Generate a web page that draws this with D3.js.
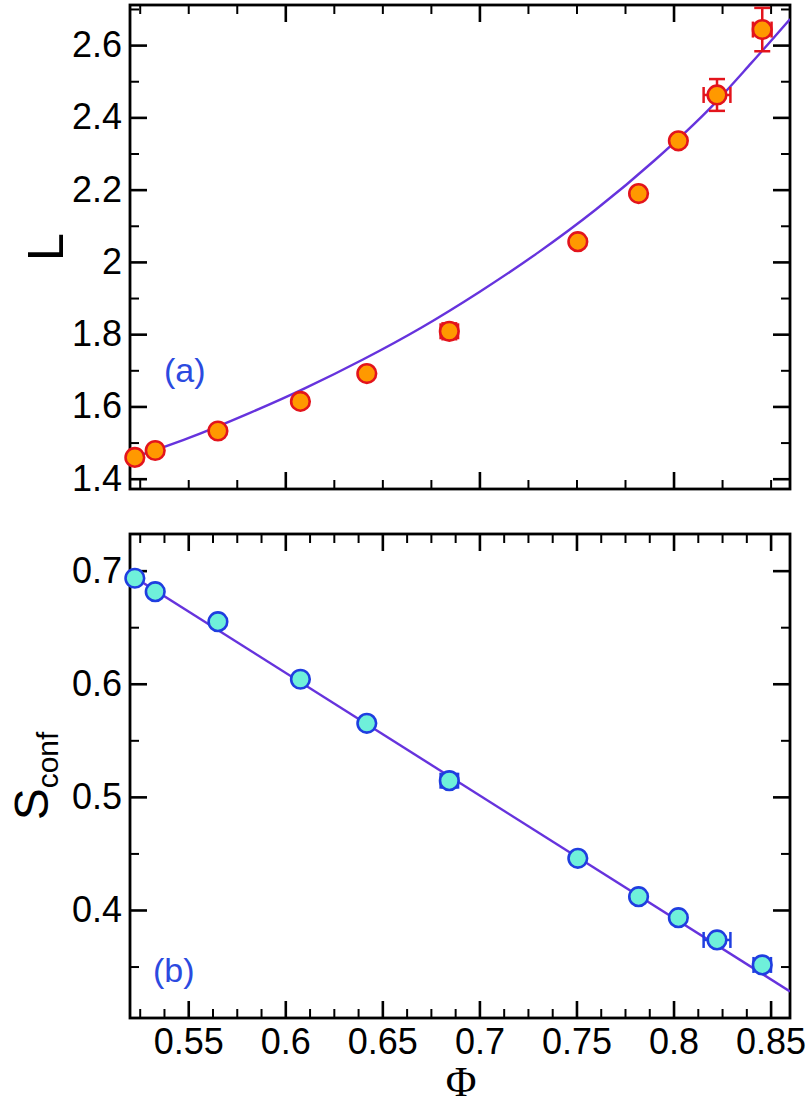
<!DOCTYPE html>
<html>
<head>
<meta charset="utf-8">
<script src="https://cdn.jsdelivr.net/npm/d3@7"></script>
<style>
  html, body { margin: 0; padding: 0; background: #fff; }
  svg { display: block; }
  text { font-family: "Liberation Sans", Arial, Helvetica, sans-serif; }
</style>
</head>
<body>
<svg id="chart" width="810" height="1107"></svg>
<script>
// ---------- data ----------
const phi    = [0.5225, 0.533, 0.5653, 0.6078, 0.642, 0.6845, 0.7507, 0.782, 0.8025, 0.8224, 0.8457];
const Lval   = [1.459, 1.478, 1.532, 1.614, 1.691, 1.808, 2.056, 2.189, 2.335, 2.462, 2.643];
const LerrX  = [0, 0, 0, 0, 0, 0.0045, 0, 0, 0, 0.0069, 0.0048];
const LerrY  = [0, 0, 0, 0, 0, 0.022, 0, 0, 0, 0.044, 0.06];
const Sval   = [0.6933, 0.6814, 0.6549, 0.604, 0.565, 0.5143, 0.4457, 0.4118, 0.3932, 0.3735, 0.3514];
const SerrX  = [0, 0, 0, 0, 0, 0.0045, 0, 0, 0, 0.0069, 0.0045];
const SerrY  = [0, 0, 0, 0, 0, 0.006, 0, 0, 0, 0, 0];

// fit curves
const fitLx  = [0.52, 0.55, 0.58, 0.61, 0.64, 0.67, 0.70, 0.73, 0.76, 0.79, 0.82, 0.84, 0.86];
const fitLy  = [1.455, 1.512, 1.578, 1.650, 1.730, 1.818, 1.917, 2.025, 2.145, 2.280, 2.432, 2.550, 2.672];
const fitSx  = [0.52, 0.86];
const fitSy  = [0.6965, 0.328];

// ticks
const xMajorTop   = [0.6, 0.7, 0.8];
const xMinorTop   = [0.525, 0.55, 0.575, 0.625, 0.65, 0.675, 0.725, 0.75, 0.775, 0.825, 0.85];
const xMajorBot   = [0.55, 0.6, 0.65, 0.7, 0.75, 0.8, 0.85];
const xMajorLabels = ["0.55", "0.6", "0.65", "0.7", "0.75", "0.8", "0.85"];
const xMinorBot   = [0.525, 0.5375, 0.5625, 0.575, 0.5875, 0.6125, 0.625, 0.6375, 0.6625, 0.675, 0.6875,
                     0.7125, 0.725, 0.7375, 0.7625, 0.775, 0.7875, 0.8125, 0.825, 0.8375];
const yMajorTop   = [1.4, 1.6, 1.8, 2.0, 2.2, 2.4, 2.6];
const yMajorTopLabels = ["1.4", "1.6", "1.8", "2", "2.2", "2.4", "2.6"];
const yMinorTop   = [1.5, 1.7, 1.9, 2.1, 2.3, 2.5, 2.7];
const yMajorBot   = [0.4, 0.5, 0.6, 0.7];
const yMajorBotLabels = ["0.4", "0.5", "0.6", "0.7"];
const yMinorBot   = [0.35, 0.45, 0.55, 0.65];

// ---------- layout ----------
const svg = d3.select("#chart");
const X0 = 130, X1 = 790;
const top1 = 5, bot1 = 489, top2 = 534, bot2 = 1018;

const x = d3.scaleLinear().domain([0.52, 0.86]).range([X0, X1]);
const yT = d3.scaleLinear().domain([1.3715, 2.711]).range([bot1, top1]);
const yB = d3.scaleLinear().domain([0.3045, 0.7324]).range([bot2, top2]);

const lineColor = "#6633dd";

function styleAxis(g, w) {
  g.select(".domain").remove();
  g.selectAll(".tick line").attr("stroke", "#000").attr("stroke-width", w);
  g.selectAll(".tick text").attr("fill", "#000").style("font-size", "36px")
    .style("font-family", '"Liberation Sans", Arial, sans-serif');
}

function panel(y, top, bot, xMaj, xMin, yMaj, yMajLab, yMin, showXLabels, id) {
  const clipId = "clip" + id;
  svg.append("clipPath").attr("id", clipId).append("rect")
    .attr("x", X0).attr("y", top).attr("width", X1 - X0).attr("height", bot - top);

  const fmtMap = (vals, labs) => d => labs[vals.indexOf(d)];
  svg.append("g").attr("transform", `translate(${X0},0)`)
    .call(d3.axisLeft(y).tickValues(yMaj).tickSizeInner(-17).tickSizeOuter(0).tickPadding(8)
      .tickFormat(fmtMap(yMaj, yMajLab)))
    .call(g => styleAxis(g, 2.6));
  svg.append("g").attr("transform", `translate(${X0},0)`)
    .call(d3.axisLeft(y).tickValues(yMin).tickSizeInner(-9).tickSizeOuter(0).tickFormat(""))
    .call(g => styleAxis(g, 2));
  svg.append("g").attr("transform", `translate(${X1},0)`)
    .call(d3.axisRight(y).tickValues(yMaj).tickSizeInner(-17).tickSizeOuter(0).tickFormat(""))
    .call(g => styleAxis(g, 2.6));
  svg.append("g").attr("transform", `translate(${X1},0)`)
    .call(d3.axisRight(y).tickValues(yMin).tickSizeInner(-9).tickSizeOuter(0).tickFormat(""))
    .call(g => styleAxis(g, 2));
  const bAx = d3.axisBottom(x).tickValues(xMaj).tickSizeInner(-17).tickSizeOuter(0).tickPadding(10);
  if (showXLabels) bAx.tickFormat(fmtMap(xMajorBot, xMajorLabels)); else bAx.tickFormat("");
  svg.append("g").attr("transform", `translate(0,${bot})`).call(bAx).call(g => styleAxis(g, 2.6));
  svg.append("g").attr("transform", `translate(0,${bot})`)
    .call(d3.axisBottom(x).tickValues(xMin).tickSizeInner(-9).tickSizeOuter(0).tickFormat(""))
    .call(g => styleAxis(g, 2));
  svg.append("g").attr("transform", `translate(0,${top})`)
    .call(d3.axisTop(x).tickValues(xMaj).tickSizeInner(-17).tickSizeOuter(0).tickFormat(""))
    .call(g => styleAxis(g, 2.6));
  svg.append("g").attr("transform", `translate(0,${top})`)
    .call(d3.axisTop(x).tickValues(xMin).tickSizeInner(-9).tickSizeOuter(0).tickFormat(""))
    .call(g => styleAxis(g, 2));

  svg.append("rect").attr("x", X0).attr("y", top).attr("width", X1 - X0).attr("height", bot - top)
    .attr("fill", "none").attr("stroke", "#000").attr("stroke-width", 2.8);
  return clipId;
}

const c1 = panel(yT, top1, bot1, xMajorTop, xMinorTop, yMajorTop, yMajorTopLabels, yMinorTop, false, 1);
const c2 = panel(yB, top2, bot2, xMajorBot, xMinorBot, yMajorBot, yMajorBotLabels, yMinorBot, true, 2);

// ---------- fit lines ----------
const lineT = d3.line().x(d => x(d[0])).y(d => yT(d[1])).curve(d3.curveMonotoneX);
svg.append("path").attr("clip-path", `url(#${c1})`)
  .attr("d", lineT(fitLx.map((v, i) => [v, fitLy[i]])))
  .attr("fill", "none").attr("stroke", lineColor).attr("stroke-width", 2.4);

const lineB = d3.line().x(d => x(d[0])).y(d => yB(d[1]));
svg.append("path").attr("clip-path", `url(#${c2})`)
  .attr("d", lineB(fitSx.map((v, i) => [v, fitSy[i]])))
  .attr("fill", "none").attr("stroke", lineColor).attr("stroke-width", 2.4);

// ---------- error bars + markers ----------
function markers(y, vals, ex, ey, fill, stroke) {
  const g = svg.append("g");
  const cap = 8;
  phi.forEach((p, i) => {
    const cx = x(p), cy = y(vals[i]);
    if (ey[i] > 0) {
      const y1 = y(vals[i] + ey[i]), y2 = y(vals[i] - ey[i]);
      g.append("line").attr("x1", cx).attr("x2", cx).attr("y1", y1).attr("y2", y2)
        .attr("stroke", stroke).attr("stroke-width", 2.5);
      [y1, y2].forEach(yy => g.append("line").attr("x1", cx - cap).attr("x2", cx + cap)
        .attr("y1", yy).attr("y2", yy).attr("stroke", stroke).attr("stroke-width", 2.5));
    }
    if (ex[i] > 0) {
      const x1 = x(p - ex[i]), x2 = x(p + ex[i]);
      g.append("line").attr("x1", x1).attr("x2", x2).attr("y1", cy).attr("y2", cy)
        .attr("stroke", stroke).attr("stroke-width", 2.5);
      [x1, x2].forEach(xx => g.append("line").attr("x1", xx).attr("x2", xx)
        .attr("y1", cy - cap).attr("y2", cy + cap).attr("stroke", stroke).attr("stroke-width", 2.5));
    }
  });
  g.selectAll("circle").data(phi).join("circle")
    .attr("cx", d => x(d)).attr("cy", (d, i) => y(vals[i])).attr("r", 9.3)
    .attr("fill", fill).attr("stroke", stroke).attr("stroke-width", 2.6);
}
markers(yT, Lval, LerrX, LerrY, "#ff9900", "#e3141c");
markers(yB, Sval, SerrX, SerrY, "#6ff0da", "#1f3ee0");

// ---------- labels ----------
svg.append("text").attr("transform", "translate(63,247) rotate(-90)")
  .attr("text-anchor", "middle").style("font-size", "50px").text("L");

const sl = svg.append("text").attr("transform", "translate(48,776) rotate(-90)")
  .attr("text-anchor", "middle");
sl.append("tspan").style("font-size", "48px").text("S");
sl.append("tspan").style("font-size", "30px").attr("dy", 10).text("conf");

svg.append("text").attr("x", 461).attr("y", 1096).attr("text-anchor", "middle")
  .style("font-family", '"Liberation Serif", "Times New Roman", serif').style("font-size", "42px").text("Φ");

svg.append("text").attr("x", 164).attr("y", 382).attr("fill", "#2b4ae0").style("font-size", "34px").text("(a)");
svg.append("text").attr("x", 153).attr("y", 982).attr("fill", "#2b4ae0").style("font-size", "34px").text("(b)");
</script>
</body>
</html>
